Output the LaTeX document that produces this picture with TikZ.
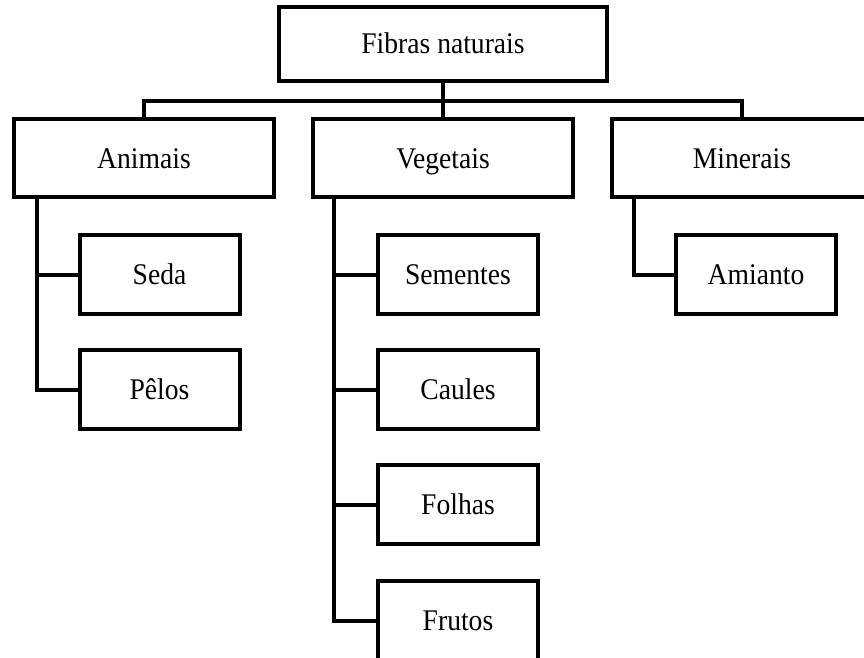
\documentclass[tikz,border=0pt]{standalone}
\usepackage{fontspec}
\setmainfont[FakeStretch=0.92]{Liberation Serif}
\begin{document}
\begin{tikzpicture}[x=1pt,y=-1pt,
  every node/.style={font=\fontsize{30}{34}\selectfont},
  boxbase/.style={draw, line width=4pt, inner sep=0pt, line join=miter, text height=20pt, text depth=0pt},
  topbox/.style={boxbase, minimum width=328pt, minimum height=74pt},
  catbox/.style={boxbase, minimum width=260pt, minimum height=78pt},
  leafbox/.style={boxbase, minimum width=160pt, minimum height=79pt},
  conn/.style={line width=4pt, line join=miter}]
\useasboundingbox (0,0) rectangle (864,658);
\clip (0,0) rectangle (864,658);
\node[topbox] (top) at (443,44) {Fibras naturais};
\node[catbox] (anim) at (144,158) {Animais};
\node[catbox] (veg) at (443,158) {Vegetais};
\node[catbox] (min) at (742,158) {Minerais};
\node[leafbox] (seda) at (159.5,274.5) {Seda};
\node[leafbox] (pelos) at (159.5,389.5) {Pêlos};
\node[leafbox] (sem) at (458,274.5) {Sementes};
\node[leafbox] (caul) at (458,389.5) {Caules};
\node[leafbox] (folh) at (458,504.5) {Folhas};
\node[leafbox] (frut) at (458,620.5) {Frutos};
\node[leafbox] (amia) at (756,274.5) {Amianto};
\coordinate (bus) at (443,101);
\draw[conn] (top.south) -- (veg.north);
\draw[conn] (anim.north) |- (bus) -| (min.north);
\coordinate (a0) at ([xshift=25pt]anim.south west);
\coordinate (v0) at ([xshift=23pt]veg.south west);
\coordinate (m0) at ([xshift=24pt]min.south west);
\draw[conn] (a0) |- (pelos.west);
\draw[conn] (a0 |- seda.west) -- (seda.west);
\draw[conn] (v0) |- (frut.west);
\draw[conn] (v0 |- sem.west) -- (sem.west);
\draw[conn] (v0 |- caul.west) -- (caul.west);
\draw[conn] (v0 |- folh.west) -- (folh.west);
\draw[conn] (m0) |- (amia.west);
\end{tikzpicture}
\end{document}
